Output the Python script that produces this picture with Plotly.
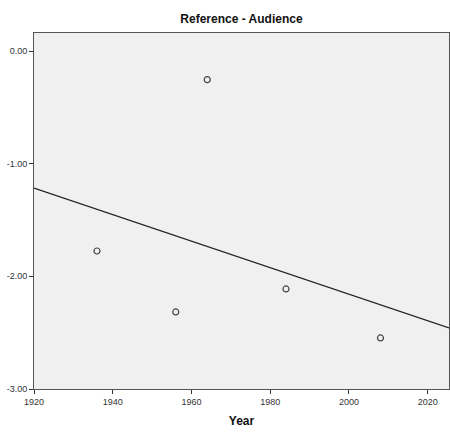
import numpy as np
import plotly.graph_objects as go

years = [1936, 1956, 1964, 1984, 2008]
values = [-1.775, -2.316, -0.254, -2.112, -2.547]
x_ticks = [1920, 1940, 1960, 1980, 2000, 2020]
y_ticks = [0.0, -1.0, -2.0, -3.0]
x_range = [1920, 2025.4]
y_range = [-3.0, 0.16]

slope, intercept = np.polyfit(years, values, 1)
fit_x = np.array(x_range)
fit_y = slope * fit_x + intercept

fig = go.Figure()
fig.add_trace(go.Scatter(
    x=fit_x, y=fit_y, mode="lines",
    line=dict(color="#222222", width=1.3),
    hoverinfo="skip", showlegend=False,
))
fig.add_trace(go.Scatter(
    x=years, y=values, mode="markers",
    marker=dict(symbol="circle-open", size=6, color="#444444", line=dict(width=1.2)),
    showlegend=False,
))

axis_font = dict(family="Liberation Sans, Arial, sans-serif", size=9, color="#333333")
fig.update_layout(
    width=450, height=445,
    margin=dict(l=34, r=1, t=33, b=56),
    paper_bgcolor="white",
    plot_bgcolor="#f0f0f0",
    title=dict(
        text="<b>Reference - Audience</b>",
        x=0.5, xanchor="center", xref="paper",
        y=1 - 19 / 445, yref="container", yanchor="middle",
        font=dict(family="Liberation Sans, Arial, sans-serif", size=12, color="#111111"),
    ),
    xaxis=dict(
        range=x_range, tickvals=x_ticks, ticktext=[str(v) for v in x_ticks],
        showgrid=False, zeroline=False,
        showline=True, mirror=True, linecolor="#555555", linewidth=1,
        ticks="outside", ticklen=4, tickcolor="#333333",
        tickfont=axis_font,
        title=dict(text="<b>Year</b>", standoff=10,
                   font=dict(family="Liberation Sans, Arial, sans-serif", size=12, color="#111111")),
    ),
    yaxis=dict(
        range=y_range, tickvals=y_ticks, ticktext=[f"{v:.2f}" for v in y_ticks],
        showgrid=False, zeroline=False,
        showline=True, mirror=True, linecolor="#555555", linewidth=1,
        ticks="outside", ticklen=4, tickcolor="#333333",
        tickfont=axis_font,
    ),
)

fig.write_html(
    "out.html",
    config={"displayModeBar": False},
    post_script="document.body.style.margin='0';document.body.style.overflow='hidden';",
)
